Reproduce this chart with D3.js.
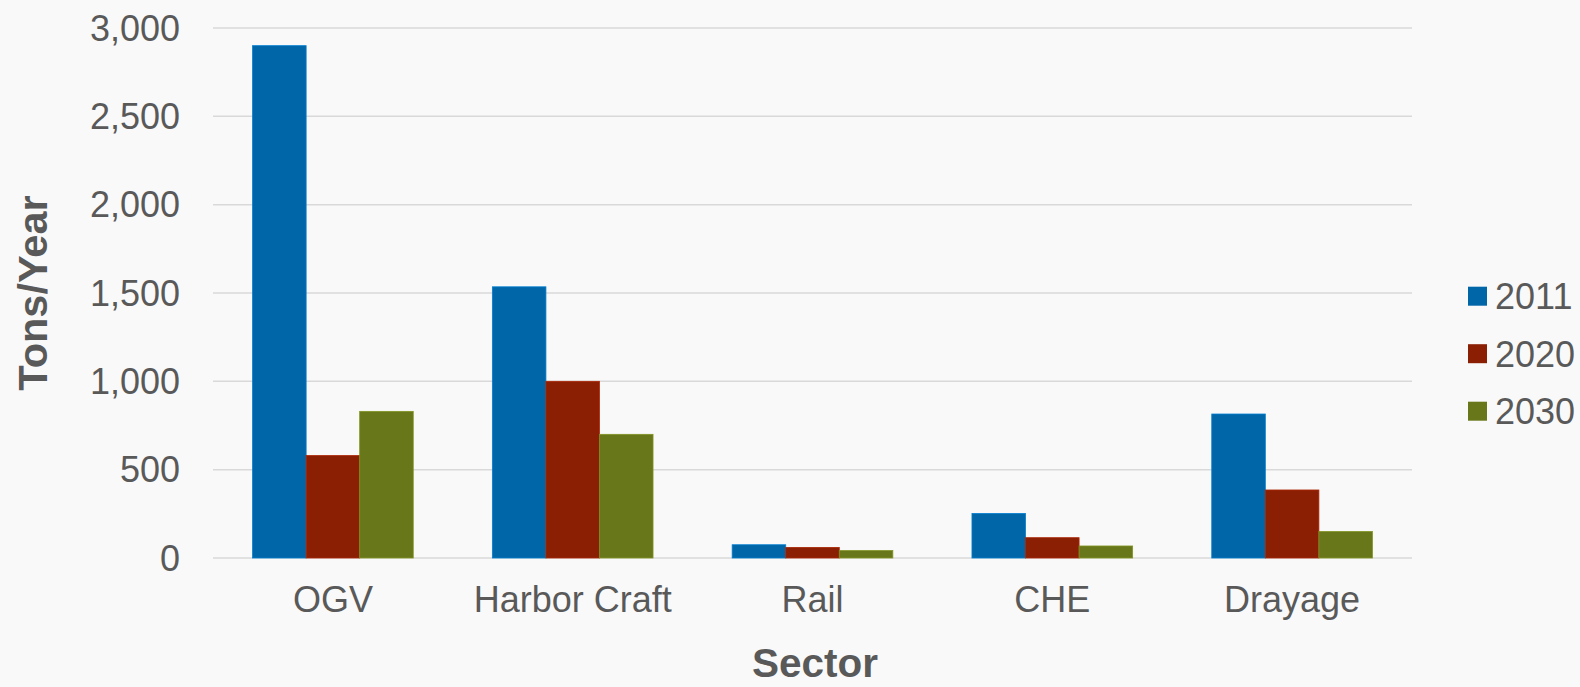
<!DOCTYPE html>
<html><head><meta charset="utf-8">
<script src="https://cdn.jsdelivr.net/npm/d3@7"></script>
<style>html,body{margin:0;padding:0;background:#f9f9f9;}svg{display:block;}</style>
</head><body>
<svg id="c" width="1580" height="687"></svg>
<script>
const categories = ["OGV", "Harbor Craft", "Rail", "CHE", "Drayage"];
const seriesNames = ["2011", "2020", "2030"];
const values2011 = [2900, 1535, 75, 252, 815];
const values2020 = [580, 1000, 60, 115, 385];
const values2030 = [830, 700, 42, 68, 150];
const yTicks = [0, 500, 1000, 1500, 2000, 2500, 3000];
const colors = ["#0066a8", "#8a1f04", "#69771b"];

const seriesValues = [values2011, values2020, values2030];
const svg = d3.select("#c");
const font = "'Liberation Sans', Arial, sans-serif";
const textColor = "#595959";
const pLeft = 213, pRight = 1412, pTop = 28, pBottom = 558;

const x = d3.scaleBand().domain(categories).range([pLeft, pRight]).paddingInner(0.33).paddingOuter(0.165);
const xs = d3.scaleBand().domain(seriesNames).range([0, x.bandwidth()]);
const y = d3.scaleLinear().domain([0, 3000]).range([pBottom, pTop]);

svg.append("rect").attr("width", 1580).attr("height", 687).attr("fill", "#f9f9f9");

// gridlines
svg.append("g").selectAll("line").data(yTicks).join("line")
  .attr("x1", pLeft).attr("x2", pRight)
  .attr("y1", d => y(d)).attr("y2", d => y(d))
  .attr("stroke", "#d9d9d9").attr("stroke-width", 1.5);

// y tick labels
const fmt = d3.format(",");
svg.append("g").selectAll("text").data(yTicks).join("text")
  .attr("x", 180).attr("y", d => y(d)).attr("dy", "0.35em")
  .attr("text-anchor", "end").attr("font-family", font).attr("font-size", 36)
  .attr("fill", textColor).text(d => fmt(d));

// bars
const groups = svg.append("g").selectAll("g").data(categories).join("g")
  .attr("transform", d => `translate(${x(d)},0)`);
groups.selectAll("rect").data((c, i) => seriesNames.map((s, j) => ({s, v: seriesValues[j][i], j})))
  .join("rect")
  .attr("x", d => xs(d.s)).attr("width", xs.bandwidth())
  .attr("y", d => y(d.v)).attr("height", d => y(0) - y(d.v))
  .attr("fill", d => colors[d.j])
  .attr("stroke", d => d3.color(colors[d.j]).brighter(0.6)).attr("stroke-width", 0.8);

// x labels
svg.append("g").selectAll("text").data(categories).join("text")
  .attr("x", d => x(d) + x.bandwidth() / 2).attr("y", 612)
  .attr("text-anchor", "middle").attr("font-family", font).attr("font-size", 36)
  .attr("fill", textColor).text(d => d);

// axis titles
svg.append("text").attr("x", 815).attr("y", 677)
  .attr("text-anchor", "middle").attr("font-family", font).attr("font-size", 40.5)
  .attr("font-weight", "bold").attr("fill", textColor).text("Sector");
svg.append("text").attr("transform", `translate(47,293) rotate(-90)`)
  .attr("text-anchor", "middle").attr("font-family", font).attr("font-size", 41.5)
  .attr("font-weight", "bold").attr("fill", textColor).text("Tons/Year");

// legend
const leg = svg.append("g").selectAll("g").data(seriesNames).join("g")
  .attr("transform", (d, i) => `translate(1468,${286.7 + i * 57.5})`);
leg.append("rect").attr("width", 19).attr("height", 19).attr("fill", (d, i) => colors[i]);
leg.append("text").attr("x", 27).attr("y", 9.5).attr("dy", "0.36em")
  .attr("font-family", font).attr("font-size", 36).attr("fill", textColor).text(d => d);
</script>
</body></html>
